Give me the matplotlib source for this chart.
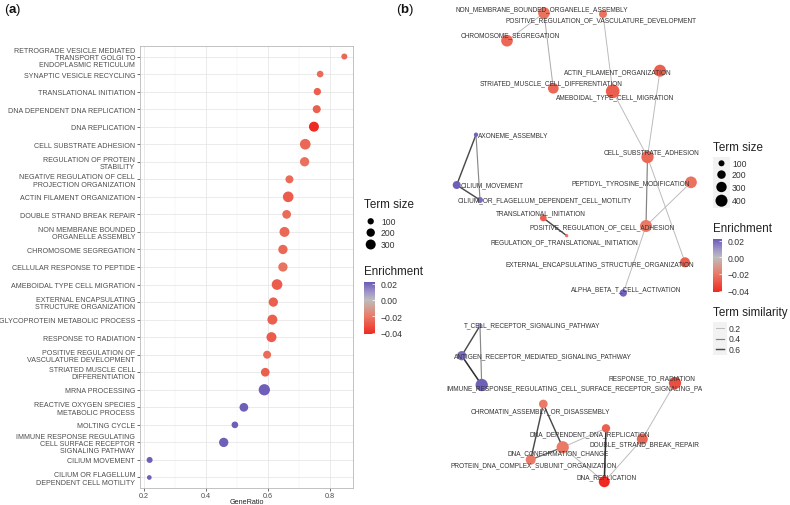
import numpy as np
import matplotlib
matplotlib.use("Agg")
import matplotlib.pyplot as plt
from matplotlib.colors import LinearSegmentedColormap, Normalize
from matplotlib.colorbar import ColorbarBase

plt.rcParams['font.family'] = ['Liberation Sans', 'DejaVu Sans']
plt.rcParams['mathtext.fontset'] = 'custom'
plt.rcParams['mathtext.rm'] = 'Liberation Sans'
plt.rcParams['mathtext.bf'] = 'Liberation Sans:bold'

# ---------------- Panel (a) data ----------------
terms_a = [
    "RETROGRADE VESICLE MEDIATED\nTRANSPORT GOLGI TO\nENDOPLASMIC RETICULUM",
    "SYNAPTIC VESICLE RECYCLING",
    "TRANSLATIONAL INITIATION",
    "DNA DEPENDENT DNA REPLICATION",
    "DNA REPLICATION",
    "CELL SUBSTRATE ADHESION",
    "REGULATION OF PROTEIN\nSTABILITY",
    "NEGATIVE REGULATION OF CELL\nPROJECTION ORGANIZATION",
    "ACTIN FILAMENT ORGANIZATION",
    "DOUBLE STRAND BREAK REPAIR",
    "NON MEMBRANE BOUNDED\nORGANELLE ASSEMBLY",
    "CHROMOSOME SEGREGATION",
    "CELLULAR RESPONSE TO PEPTIDE",
    "AMEBOIDAL TYPE CELL MIGRATION",
    "EXTERNAL ENCAPSULATING\nSTRUCTURE ORGANIZATION",
    "GLYCOPROTEIN METABOLIC PROCESS",
    "RESPONSE TO RADIATION",
    "POSITIVE REGULATION OF\nVASCULATURE DEVELOPMENT",
    "STRIATED MUSCLE CELL\nDIFFERENTIATION",
    "MRNA PROCESSING",
    "REACTIVE OXYGEN SPECIES\nMETABOLIC PROCESS",
    "MOLTING CYCLE",
    "IMMUNE RESPONSE REGULATING\nCELL SURFACE RECEPTOR\nSIGNALING PATHWAY",
    "CILIUM MOVEMENT",
    "CILIUM OR FLAGELLUM\nDEPENDENT CELL MOTILITY",
]
gene_ratio_a = [0.846, 0.768, 0.759, 0.757, 0.748, 0.720, 0.718, 0.669, 0.665, 0.660,
                0.653, 0.648, 0.648, 0.629, 0.617, 0.614, 0.611, 0.597, 0.591, 0.588,
                0.522, 0.493, 0.457, 0.218, 0.217]
term_size_a = [87, 115, 145, 180, 300, 345, 255, 180, 345, 220,
               300, 255, 255, 345, 255, 300, 300, 180, 220, 390,
               220, 115, 255, 87, 40]
enrich_a = [-0.025, -0.024, -0.027, -0.027, -0.042, -0.025, -0.023, -0.024, -0.028, -0.024,
            -0.025, -0.025, -0.022, -0.028, -0.027, -0.027, -0.028, -0.024, -0.027, 0.021,
            0.021, 0.021, 0.021, 0.021, 0.021]
size_breaks_a = [100, 200, 300]
enrich_breaks = [0.02, 0.00, -0.02, -0.04]
xticks_a = [0.2, 0.4, 0.6, 0.8]

# ---------------- Panel (b) data ----------------
node_names = [
    "NON_MEMBRANE_BOUNDED_ORGANELLE_ASSEMBLY",
    "POSITIVE_REGULATION_OF_VASCULATURE_DEVELOPMENT",
    "CHROMOSOME_SEGREGATION",
    "ACTIN_FILAMENT_ORGANIZATION",
    "STRIATED_MUSCLE_CELL_DIFFERENTIATION",
    "AMEBOIDAL_TYPE_CELL_MIGRATION",
    "CELL_SUBSTRATE_ADHESION",
    "PEPTIDYL_TYROSINE_MODIFICATION",
    "POSITIVE_REGULATION_OF_CELL_ADHESION",
    "EXTERNAL_ENCAPSULATING_STRUCTURE_ORGANIZATION",
    "ALPHA_BETA_T_CELL_ACTIVATION",
    "AXONEME_ASSEMBLY",
    "CILIUM_MOVEMENT",
    "CILIUM_OR_FLAGELLUM_DEPENDENT_CELL_MOTILITY",
    "TRANSLATIONAL_INITIATION",
    "REGULATION_OF_TRANSLATIONAL_INITIATION",
    "T_CELL_RECEPTOR_SIGNALING_PATHWAY",
    "ANTIGEN_RECEPTOR_MEDIATED_SIGNALING_PATHWAY",
    "IMMUNE_RESPONSE_REGULATING_CELL_SURFACE_RECEPTOR_SIGNALING_PATHWAY",
    "RESPONSE_TO_RADIATION",
    "CHROMATIN_ASSEMBLY_OR_DISASSEMBLY",
    "DNA_DEPENDENT_DNA_REPLICATION",
    "DOUBLE_STRAND_BREAK_REPAIR",
    "DNA_CONFORMATION_CHANGE",
    "PROTEIN_DNA_COMPLEX_SUBUNIT_ORGANIZATION",
    "DNA_REPLICATION",
]
node_size_b = [380, 178, 380, 400, 316, 520, 420, 380, 400, 280,
               150, 52, 178, 100, 123, 30, 70, 240, 420, 420,
               210, 193, 336, 420, 278, 336]
node_enrich_b = [-0.022, -0.022, -0.025, -0.027, -0.025, -0.027, -0.025, -0.022, -0.020, -0.027,
                 0.020, 0.020, 0.021, 0.018, -0.027, -0.022, 0.012, 0.018, 0.021, -0.032,
                 -0.020, -0.027, -0.025, -0.020, -0.020, -0.042]
# graph layout coordinates
layout_x = [544, 603, 507, 660, 553.3, 612.7, 647.5, 691, 646, 685,
            623.3, 476, 456.7, 480, 543.3, 566.7, 480, 461.7, 481.7, 675,
            543.3, 606, 642.3, 562.7, 530.7, 604.3]
layout_y = [14, 15, 41.7, 71.7, 89.3, 92.3, 158, 183.3, 227, 263.3,
            294, 135.7, 186, 201, 219, 236.7, 326.7, 356.7, 386, 384,
            405, 429.3, 440, 448.3, 460.7, 482.7]
label_x = [541.7, 600.7, 510.5, 618, 551, 615, 651, 630.7, 601.7, 600,
           626, 513.7, 491.7, 545, 540.8, 564, 532.5, 543.3, 586, 652,
           540.8, 589.7, 644, 557.7, 533.3, 607]
label_y = [9.3, 20.7, 36, 72.3, 84, 97.7, 152.7, 183.3, 227.7, 265,
           289.3, 135.7, 186, 200.7, 214, 242.3, 326, 356.7, 389, 378.3,
           411.7, 434.3, 445, 454, 466, 477.3]
edge_from = [0, 0, 1, 5, 3, 6, 6, 7, 8, 11, 11, 12, 14, 16, 16, 17, 19, 22, 21, 23, 23, 23, 20, 23]
edge_to =   [2, 4, 5, 6, 6, 9, 8, 8, 10, 12, 13, 13, 15, 17, 18, 18, 22, 25, 25, 21, 25, 20, 24, 24]
edge_sim =  [0.2, 0.25, 0.2, 0.2, 0.2, 0.2, 0.4, 0.2, 0.2, 0.6, 0.38, 0.6, 0.6, 0.6, 0.38, 0.7,
             0.2, 0.2, 0.7, 0.2, 0.2, 0.6, 0.6, 0.5]
size_breaks_b = [100, 200, 300, 400]
sim_breaks = [0.2, 0.4, 0.6]

# ---------------- styles ----------------
vmin, vmax = -0.0415, 0.0215
def pos(v):
    return (v - vmin) / (vmax - vmin)
cmap = LinearSegmentedColormap.from_list("enr", [
    (0.0, "#EE2A22"),
    (pos(-0.02), "#EA7A66"),
    (pos(0.0), "#BDBDBD"),
    (pos(0.01), "#9D92C8"),
    (1.0, "#6D5DB8"),
])
norm = Normalize(vmin, vmax)

def size_a(v):
    return (10 + 0.3 * np.asarray(v, float)) * 0.5184

def size_b(v):
    return 0.1866 * np.asarray(v, float)

def edge_gray(s):
    g = np.clip(0.95 - 1.1 * s, 0.1, 0.9)
    return (g, g, g)

TXT = "#4D4D4D"
W, H = 790, 506
fig = plt.figure(figsize=(W / 100, H / 100), dpi=100)

# ---------------- Panel (a) ----------------
ax = fig.add_axes([140 / W, 1 - 489 / H, 213 / W, 442 / H])
n = len(terms_a)
ypos = np.arange(n, 0, -1)
ax.scatter(gene_ratio_a, ypos, s=size_a(term_size_a), c=enrich_a, cmap=cmap, norm=norm,
           edgecolors='none', zorder=3)
ax.set_xlim(0.187, 0.874)
ax.set_ylim(0.4, n + 0.6)
ax.set_yticks(ypos)
ax.set_yticklabels(terms_a, fontsize=5.15, color=TXT, linespacing=1.05)
ax.set_xticks(xticks_a)
ax.set_xticklabels([f"{t:.1f}" for t in xticks_a], fontsize=5.2, color=TXT)
ax.set_xticks([0.3, 0.5, 0.7], minor=True)
ax.grid(True, which='major', color='#E3E3E3', lw=0.5, zorder=0)
ax.grid(True, which='minor', axis='x', color='#EFEFEF', lw=0.35, zorder=0)
ax.tick_params(axis='both', which='major', length=2, width=0.5, color='#333333', pad=1.5)
ax.tick_params(axis='x', which='major', pad=0.8)
ax.tick_params(axis='x', which='minor', length=0)
for sp in ax.spines.values():
    sp.set_color('#B8B8B8')
    sp.set_linewidth(0.6)
ax.set_axisbelow(True)
ax.set_xlabel("GeneRatio", fontsize=5.2, color='#222222')
ax.xaxis.set_label_coords(0.5, -(502.3 - 489) / 442, transform=ax.transAxes)
ax.xaxis.label.set_va('center')

# ---------------- Panel (b) ----------------
axb = fig.add_axes([430 / W, 0, 272 / W, 1])
axb.set_xlim(430, 702)
axb.set_ylim(H, 0)
axb.axis('off')
lx = np.array(layout_x)
ly = np.array(layout_y)
for a_, b_, s_ in zip(edge_from, edge_to, edge_sim):
    axb.plot([lx[a_], lx[b_]], [ly[a_], ly[b_]], color=edge_gray(s_), lw=0.5 + 0.9 * s_,
             zorder=1, solid_capstyle='butt')
axb.scatter(lx, ly, s=size_b(node_size_b), c=node_enrich_b, cmap=cmap, norm=norm,
            edgecolors='none', zorder=2)
for name, tx, ty in zip(node_names, label_x, label_y):
    t = axb.text(tx, ty, name, fontsize=4.7, color='#333333', ha='center', va='center', zorder=3)
    t.set_clip_on(True)

# ---------------- Legends / labels overlay ----------------
ov = fig.add_axes([0, 0, 1, 1], facecolor='none')
ov.set_xlim(0, W)
ov.set_ylim(H, 0)
ov.axis('off')

ov.text(4, 10, r"($\mathbf{a}$)", fontsize=9.5, ha='left', va='center', color='#111111')
ov.text(396, 10, r"($\mathbf{b}$)", fontsize=9.5, ha='left', va='center', color='#111111')

# panel a: Term size legend
ov.text(364, 205, "Term size", fontsize=8.4, color='#222222', ha='left', va='center')
ya = [222.3, 233.6, 245.5]
ov.scatter([370.7] * 3, ya, s=size_a(size_breaks_a), color='black', edgecolors='none')
for yy, b in zip(ya, size_breaks_a):
    ov.text(381, yy, str(b), fontsize=6.2, color='#333333', ha='left', va='center')
ov.text(364, 271.7, "Enrichment", fontsize=8.4, color='#222222', ha='left', va='center')

def colorbar(x0, y0, w, h):
    cax = fig.add_axes([x0 / W, 1 - (y0 + h) / H, w / W, h / H])
    cb = ColorbarBase(cax, cmap=cmap, norm=norm, orientation='vertical')
    cb.outline.set_visible(False)
    cb.set_ticks(enrich_breaks)
    cb.set_ticklabels(["0.02", "0.00", "\u22120.02", "\u22120.04"])
    cax.tick_params(length=2, width=0.5, color='white', direction='in', labelsize=6.2,
                    labelcolor='#333333', pad=4)
    return cb

colorbar(364, 283.3, 11, 51.7)

# panel b: Term size legend
ov.text(713, 148.3, "Term size", fontsize=8.4, color='#222222', ha='left', va='center')
yb = [164.3, 175.6, 188.0, 201.7]
ov.add_patch(plt.Rectangle((713, 157.5), 17, 51, color='#F2F2F2', lw=0, zorder=0))
ov.scatter([721.5] * 4, yb, s=size_b(size_breaks_b), color='black', edgecolors='none', zorder=2)
for yy, b in zip(yb, size_breaks_b):
    ov.text(732, yy, str(b), fontsize=6.2, color='#333333', ha='left', va='center')
ov.text(713, 229.3, "Enrichment", fontsize=8.4, color='#222222', ha='left', va='center')
colorbar(713, 240.3, 9, 52.5)

ov.text(713, 313.3, "Term similarity", fontsize=8.4, color='#222222', ha='left', va='center')
ys = [329, 339.7, 350.3]
ov.add_patch(plt.Rectangle((713, 323), 14, 33, color='#F2F2F2', lw=0, zorder=0))
for yy, s_ in zip(ys, sim_breaks):
    ov.plot([716, 723.5], [yy, yy], color=edge_gray(s_), lw=0.5 + 0.9 * s_, zorder=2)
    ov.text(729, yy, f"{s_:.1f}", fontsize=6.2, color='#333333', ha='left', va='center')

fig.savefig("out.png", dpi=100, facecolor='white')
